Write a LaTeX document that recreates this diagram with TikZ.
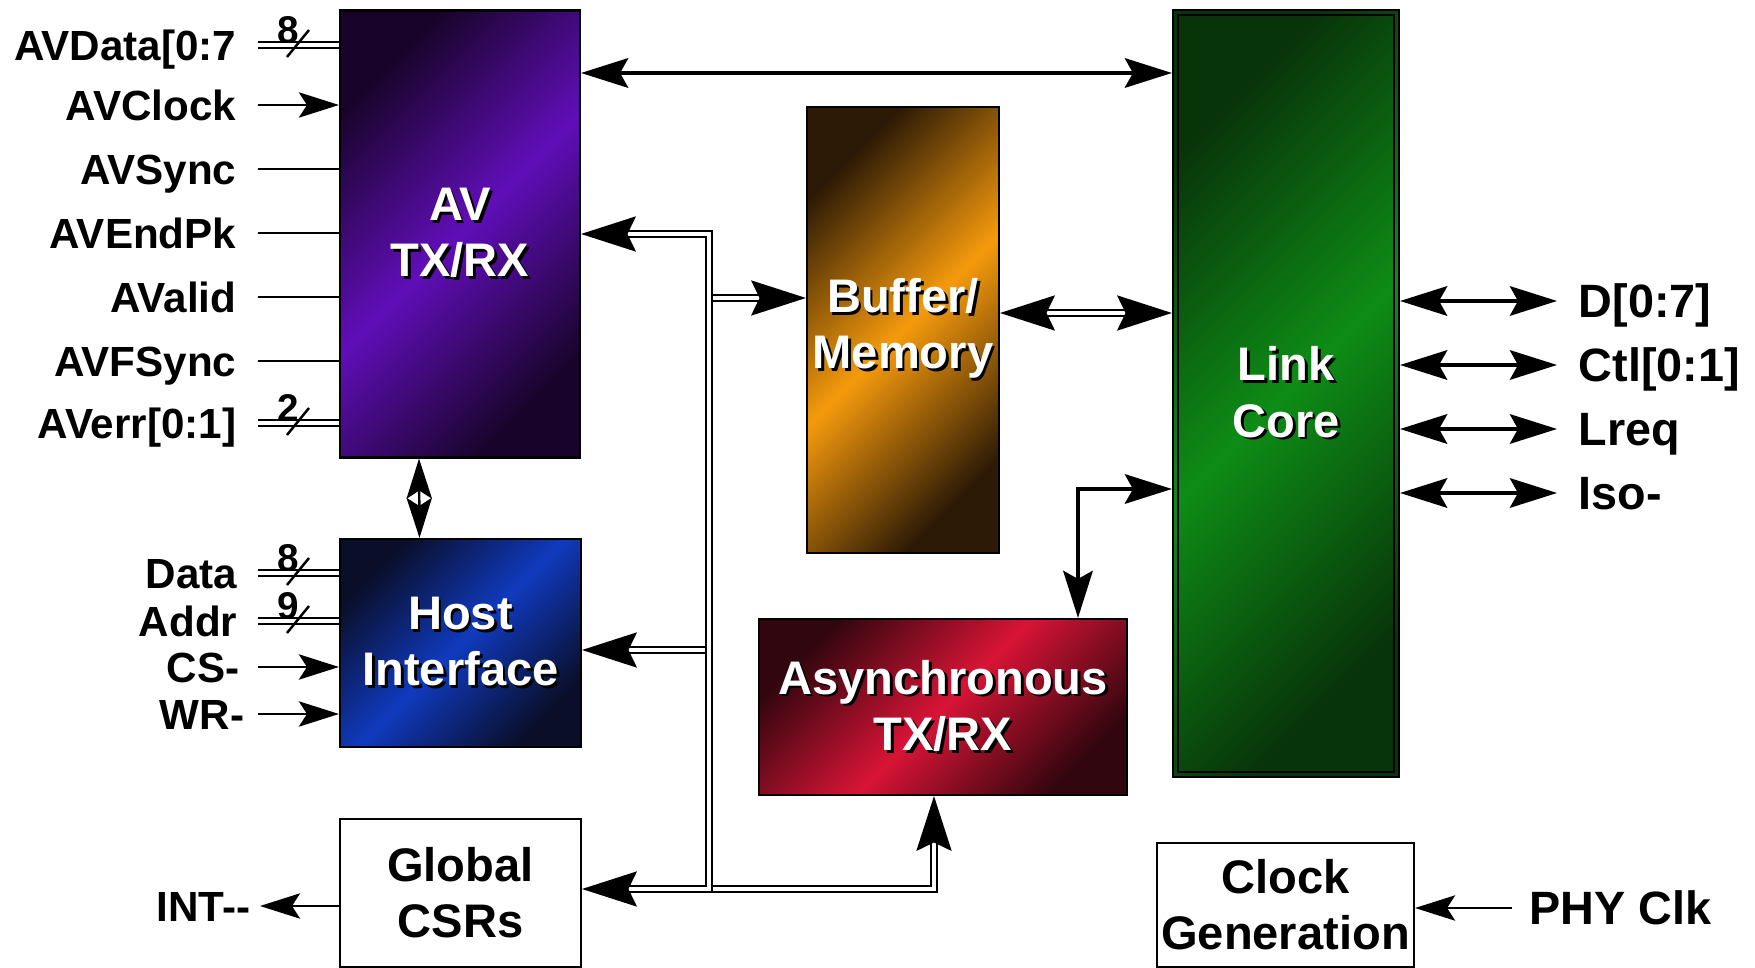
\documentclass[tikz,border=0pt]{standalone}
\usepackage{fontspec}
\setmainfont{Liberation Sans}
\usepackage{xcolor}
\usepackage{tikz}
\usetikzlibrary{arrows.meta}

\definecolor{AVdark}{RGB}{24,4,42}
\definecolor{AVlight}{RGB}{96,14,184}
\definecolor{HIdark}{RGB}{10,14,40}
\definecolor{HIlight}{RGB}{16,58,190}
\definecolor{BMdark}{RGB}{45,26,6}
\definecolor{BMlight}{RGB}{245,154,12}
\definecolor{ATdark}{RGB}{50,6,14}
\definecolor{ATlight}{RGB}{216,20,54}
\definecolor{LCdark}{RGB}{8,52,10}
\definecolor{LClight}{RGB}{14,140,22}

\newcommand{\boxfont}{\fontsize{13.4}{16}\selectfont\bfseries}
\newcommand{\pinfont}{\fontsize{12}{14}\selectfont\bfseries}
\newcommand{\portfont}{\fontsize{13.3}{16}\selectfont\bfseries}
\newcommand{\busfont}{\fontsize{11}{12}\selectfont\bfseries}
\newcommand{\shtxt}[1]{\makebox[0pt][l]{\kern0.8pt\raisebox{-0.8pt}{\color{black}#1}}#1}

\begin{document}
\begin{tikzpicture}[
  Sml/.tip={Stealth[length=11.4pt,width=7.2pt,inset=2.3pt]},
  Mid/.tip={Stealth[length=13.4pt,width=8.4pt,inset=2.3pt]},
  Big/.tip={Stealth[length=15.6pt,width=10pt,inset=2.4pt]},
  blk/.style={draw,line width=0.6pt,inner sep=0pt,align=center,font=\boxfont,text=white},
  grad/.style 2 args={left color=#1,right color=#1,middle color=#2,shading angle=45},
  pin/.style={font=\pinfont,inner sep=0pt,text height=8.6pt,text depth=0pt},
  port/.style={font=\portfont,inner sep=0pt,text height=9.5pt,text depth=0pt},
  busnum/.style={font=\busfont,inner sep=0pt},
  wire/.style={line width=0.7pt},
  heavy/.style={line width=1.1pt},
  bus/.style={double,line width=0.62pt,double distance=1.1pt}
]
  \useasboundingbox (0,0) rectangle (17.55,-9.68);

  \node[blk,grad={AVdark}{AVlight},minimum width=2.40cm,minimum height=4.47cm,xshift=4.60cm,yshift=-2.34cm](av){\shtxt{AV}\\\shtxt{TX/RX}};
  \node[blk,grad={HIdark}{HIlight},minimum width=2.41cm,minimum height=2.08cm,xshift=4.605cm,yshift=-6.43cm](host){\shtxt{Host}\\\shtxt{Interface}};
  \node[blk,text=black,minimum width=2.41cm,minimum height=1.48cm,xshift=4.605cm,yshift=-8.93cm](csr){Global\\CSRs};
  \node[blk,grad={BMdark}{BMlight},minimum width=1.92cm,minimum height=4.46cm,xshift=9.03cm,yshift=-3.30cm](buf){\shtxt{Buffer/}\\\shtxt{Memory}};
  \node[blk,grad={ATdark}{ATlight},minimum width=3.68cm,minimum height=1.76cm,xshift=9.43cm,yshift=-7.07cm](async){\shtxt{Asynchronous}\\\shtxt{TX/RX}};
  \node[blk,grad={LCdark}{LClight},minimum width=2.26cm,minimum height=7.67cm,xshift=12.86cm,yshift=-3.935cm](link){\shtxt{Link}\\\shtxt{Core}};
  \draw[line width=0.6pt] ([shift={(0.06,-0.06)}]link.north west) rectangle ([shift={(-0.06,0.06)}]link.south east);
  \node[blk,text=black,minimum width=2.57cm,minimum height=1.24cm,xshift=12.855cm,yshift=-9.05cm](clk){Clock\\Generation};

  \node[pin,anchor=east,xshift=2.37cm,yshift=-0.45cm](avdata){AVData[0:7};
  \node[pin,anchor=east,xshift=2.37cm,yshift=-1.05cm](avclock){AVClock};
  \node[pin,anchor=east,xshift=2.37cm,yshift=-1.69cm](avsync){AVSync};
  \node[pin,anchor=east,xshift=2.37cm,yshift=-2.33cm](avendpk){AVEndPk};
  \node[pin,anchor=east,xshift=2.37cm,yshift=-2.97cm](avalid){AValid};
  \node[pin,anchor=east,xshift=2.37cm,yshift=-3.61cm](avfsync){AVFSync};
  \node[pin,anchor=east,xshift=2.37cm,yshift=-4.23cm](averr){AVerr[0:1]};
  \node[pin,anchor=east,xshift=2.38cm,yshift=-5.73cm](data){Data};
  \node[pin,anchor=east,xshift=2.38cm,yshift=-6.21cm](addr){Addr};
  \node[pin,anchor=east,xshift=2.40cm,yshift=-6.67cm](cs){CS-};
  \node[pin,anchor=east,xshift=2.45cm,yshift=-7.14cm](wr){WR-};
  \node[pin,anchor=east,xshift=2.51cm,yshift=-9.06cm](int){INT-{}-};

  \node[port,anchor=west,xshift=15.78cm,yshift=-3.01cm](d07){D[0:7]};
  \node[port,anchor=west,xshift=15.78cm,yshift=-3.65cm](ctl){Ctl[0:1]};
  \node[port,anchor=west,xshift=15.78cm,yshift=-4.29cm](lreq){Lreq};
  \node[port,anchor=west,xshift=15.78cm,yshift=-4.93cm](iso){Iso-};
  \node[port,anchor=west,xshift=15.29cm,yshift=-9.08cm](phyclk){PHY Clk};

  \node[busnum,xshift=2.88cm,yshift=-0.30cm](w8a){8};
  \node[busnum,xshift=2.88cm,yshift=-4.08cm](w2){2};
  \node[busnum,xshift=2.88cm,yshift=-5.58cm](w8b){8};
  \node[busnum,xshift=2.88cm,yshift=-6.06cm](w9){9};

  \coordinate (lx) at (2.58,0);
  \coordinate (rx) at (15.57,0);
  \coordinate (ix) at (2.60,0);
  \coordinate (px) at (15.12,0);
  \coordinate (avl) at (0,-0.73);
  \coordinate (bl) at (0,-3.13);
  \coordinate (la) at (10.78,-4.89);
  \coordinate (bustop) at (7.09,-2.34);
  \coordinate (busbuf) at (7.09,-2.98);
  \coordinate (bushost) at (7.09,-6.50);
  \coordinate (busbot) at (7.09,-8.89);
  \coordinate (busasy) at (9.34,-8.89);

  \draw[bus] (lx |- avdata) -- (av.west |- avdata);
  \draw[wire,-Sml] (lx |- avclock) -- (av.west |- avclock);
  \draw[wire] (lx |- avsync) -- (av.west |- avsync);
  \draw[wire] (lx |- avendpk) -- (av.west |- avendpk);
  \draw[wire] (lx |- avalid) -- (av.west |- avalid);
  \draw[wire] (lx |- avfsync) -- (av.west |- avfsync);
  \draw[bus] (lx |- averr) -- (av.west |- averr);
  \draw[bus] (lx |- data) -- (host.west |- data);
  \draw[bus] (lx |- addr) -- (host.west |- addr);
  \draw[wire,-Sml] (lx |- cs) -- (host.west |- cs);
  \draw[wire,-Sml] (lx |- wr) -- (host.west |- wr);
  \draw[wire,-Sml] (csr.west |- int) -- (ix |- int);

  \draw[wire] ([shift={(-0.01,-0.27)}]w8a.center) -- ([shift={(0.21,0)}]w8a.center);
  \draw[wire] ([shift={(-0.01,-0.27)}]w2.center) -- ([shift={(0.21,0)}]w2.center);
  \draw[wire] ([shift={(-0.01,-0.27)}]w8b.center) -- ([shift={(0.21,0)}]w8b.center);
  \draw[wire] ([shift={(-0.01,-0.27)}]w9.center) -- ([shift={(0.21,0)}]w9.center);

  \draw[wire,Sml-Sml] ([xshift=-0.41cm]av.south) -- ([xshift=-0.41cm]host.north);
  \draw[heavy,Mid-Mid] (av.east |- avl) -- (link.west |- avl);
  \draw[heavy,Mid-Mid] (link.west |- la) -- (la) -- (async.north -| la);

  \draw[bus,-Big] (busbuf) -- (buf.west |- busbuf);
  \draw[bus,-Big] (bushost) -- (host.east |- bushost);
  \draw[bus,-Big] (busbot) -- (busasy) -- (async.south -| busasy);
  \draw[bus,Big-Big] (av.east |- bustop) -- (bustop) -- (busbot) -- (csr.east |- busbot);
  \draw[bus,Big-Big] (buf.east |- bl) -- (link.west |- bl);

  \draw[heavy,Mid-Mid] (link.east |- d07) -- (rx |- d07);
  \draw[heavy,Mid-Mid] (link.east |- ctl) -- (rx |- ctl);
  \draw[heavy,Mid-Mid] (link.east |- lreq) -- (rx |- lreq);
  \draw[heavy,Mid-Mid] (link.east |- iso) -- (rx |- iso);
  \draw[wire,-Sml] (px |- phyclk) -- (clk.east |- phyclk);
\end{tikzpicture}
\end{document}
